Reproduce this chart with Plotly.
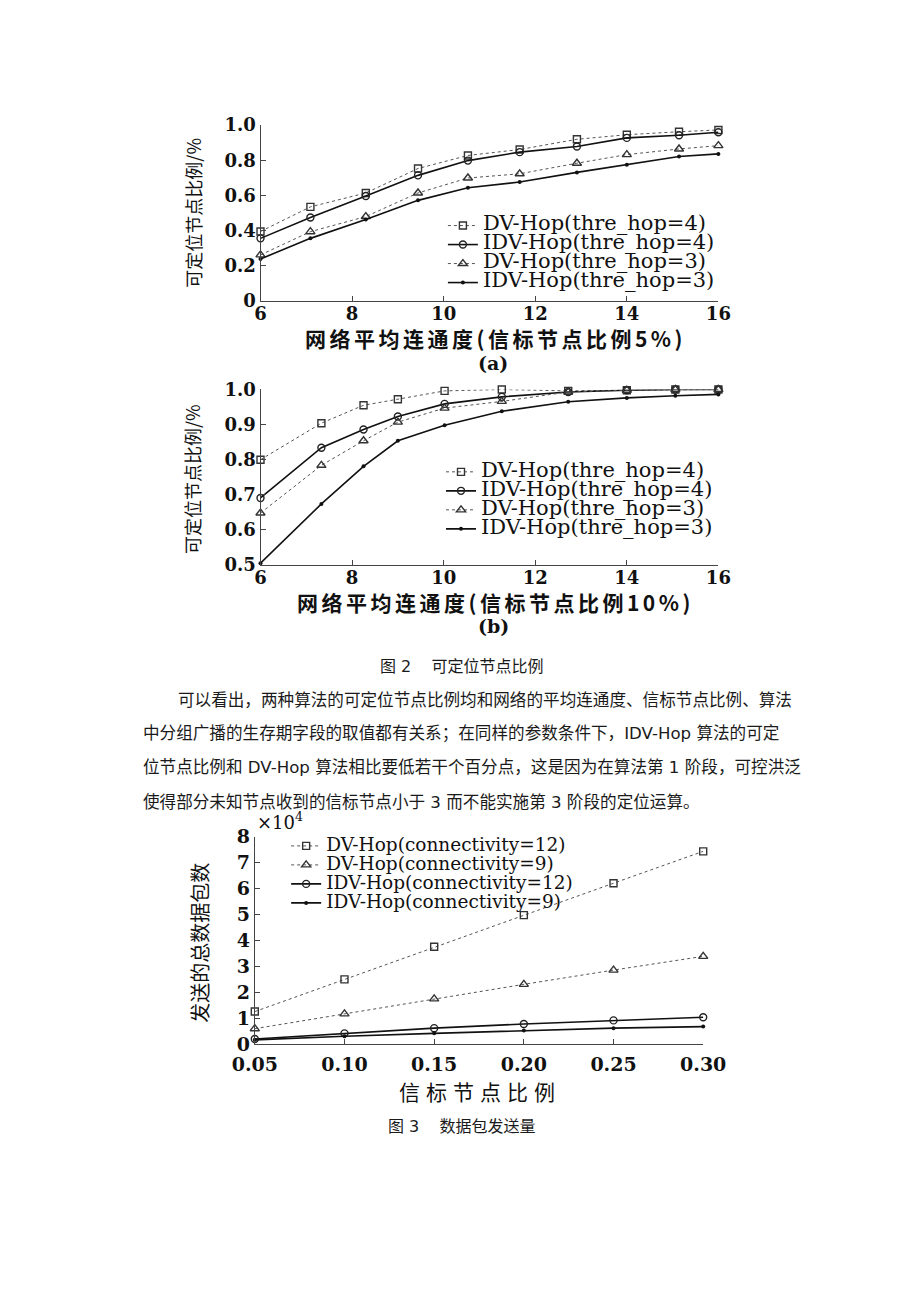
import plotly.graph_objects as go

W, H = 920, 1302


def px(x):
    return x / W


def py(y):
    return 1 - y / H


# ---------------- data ----------------
# Figure 2(a): beacon ratio 5%
conn_a = [6, 7.09, 8.3, 9.44, 10.53, 11.66, 12.91, 14.0, 15.14, 16.0]
a_dv4 = [0.395, 0.535, 0.614, 0.753, 0.827, 0.861, 0.919, 0.945, 0.962, 0.972]
a_idv4 = [0.356, 0.475, 0.597, 0.714, 0.798, 0.846, 0.878, 0.927, 0.942, 0.959]
a_dv3 = [0.262, 0.394, 0.480, 0.614, 0.699, 0.723, 0.783, 0.832, 0.864, 0.883]
a_idv3 = [0.239, 0.356, 0.463, 0.572, 0.644, 0.676, 0.731, 0.774, 0.821, 0.836]

# Figure 2(b): beacon ratio 10%
conn_b = [6, 7.33, 8.25, 9.0, 10.02, 11.27, 12.72, 14.0, 15.06, 16.0]
b_dv4 = [0.800, 0.904, 0.955, 0.972, 0.996, 1.000, 0.996, 0.998, 1.000, 1.000]
b_idv4 = [0.691, 0.834, 0.886, 0.923, 0.959, 0.979, 0.993, 0.998, 1.000, 1.000]
b_dv3 = [0.648, 0.784, 0.854, 0.907, 0.947, 0.966, 0.993, 0.998, 1.000, 1.000]
b_idv3 = [0.505, 0.674, 0.781, 0.854, 0.898, 0.938, 0.965, 0.976, 0.982, 0.986]

# Figure 3: packets sent
beacon = [0.05, 0.10, 0.15, 0.20, 0.25, 0.30]
c_dv12 = [12600, 25000, 37600, 49800, 62100, 74400]
c_dv9 = [6000, 11700, 17500, 23100, 28600, 33900]
c_idv12 = [2050, 4200, 6200, 7800, 9200, 10400]
c_idv9 = [1700, 3100, 4200, 5300, 6200, 6800]

names_a = ["DV-Hop(thre_hop=4)", "IDV-Hop(thre_hop=4)", "DV-Hop(thre_hop=3)", "IDV-Hop(thre_hop=3)"]
names_c = ["DV-Hop(connectivity=12)", "DV-Hop(connectivity=9)",
           "IDV-Hop(connectivity=12)", "IDV-Hop(connectivity=9)"]

ticks_a_y = [0, 0.2, 0.4, 0.6, 0.8, 1.0]
ticks_a_y_txt = ["0", "0.2", "0.4", "0.6", "0.8", "1.0"]
ticks_b_y = [0.5, 0.6, 0.7, 0.8, 0.9, 1.0]
ticks_b_y_txt = ["0.5", "0.6", "0.7", "0.8", "0.9", "1.0"]
ticks_conn = [6, 8, 10, 12, 14, 16]
ticks_c_x_txt = ["0.05", "0.10", "0.15", "0.20", "0.25", "0.30"]
ticks_c_y = [0, 10000, 20000, 30000, 40000, 50000, 60000, 70000, 80000]
ticks_c_y_txt = ["0", "1", "2", "3", "4", "5", "6", "7", "8"]

# ---------------- styles ----------------
SERIF = "DejaVu Serif"
CJK = "Noto Sans CJK SC"
BODY = "DejaVu Sans, Noto Sans CJK SC"
INK = "#111111"

STY = {
    "sq": dict(line=dict(color="#555555", width=1, dash="dot"),
               marker=dict(symbol="square-open", size=7, color="#333333", line=dict(width=1.4))),
    "ci": dict(line=dict(color="#111111", width=1.6),
               marker=dict(symbol="circle-open", size=7, color="#222222", line=dict(width=1.4))),
    "tr": dict(line=dict(color="#555555", width=1, dash="dot"),
               marker=dict(symbol="triangle-up-open", size=8, color="#333333", line=dict(width=1.4))),
    "dt": dict(line=dict(color="#111111", width=1.6),
               marker=dict(symbol="circle", size=4, color="#111111")),
}

fig = go.Figure()


def add(x, y, name, sty, xa, ya, leg, fs):
    fig.add_trace(go.Scatter(
        x=x, y=y, mode="lines+markers",
        name="<span style='font-size:%spx'>%s</span>" % (fs, name),
        xaxis=xa, yaxis=ya, legend=leg, cliponaxis=False,
        **STY[sty]))


for ys, nm, st in zip([a_dv4, a_idv4, a_dv3, a_idv3], names_a, ["sq", "ci", "tr", "dt"]):
    add(conn_a, ys, nm, st, "x", "y", "legend", 21)
for ys, nm, st in zip([b_dv4, b_idv4, b_dv3, b_idv3], names_a, ["sq", "ci", "tr", "dt"]):
    add(conn_b, ys, nm, st, "x2", "y2", "legend2", 21)
for ys, nm, st in zip([c_dv12, c_dv9, c_idv12, c_idv9], names_c, ["sq", "tr", "ci", "dt"]):
    add(beacon, ys, nm, st, "x3", "y3", "legend3", 18.5)

TF = dict(family=SERIF, size=18, color=INK, weight="bold")
AX = dict(showline=True, linecolor="#444444", linewidth=1, ticks="inside", ticklen=5,
          tickcolor="#444444", showgrid=False, zeroline=False, tickfont=TF)

fig.update_layout(
    width=W, height=H, margin=dict(l=0, r=0, t=0, b=0),
    paper_bgcolor="white", plot_bgcolor="white",
    xaxis=dict(AX, domain=[px(250), px(732)], anchor="y", range=[6, 16],
               tickvals=ticks_conn, ticklabelstandoff=-4),
    yaxis=dict(AX, domain=[py(295), py(116)], anchor="x", range=[0, 1],
               tickvals=ticks_a_y, ticktext=ticks_a_y_txt),
    xaxis2=dict(AX, domain=[px(250), px(732)], anchor="y2", range=[6, 16],
                tickvals=ticks_conn, ticklabelstandoff=-4),
    yaxis2=dict(AX, domain=[py(563.5), py(385)], anchor="x2", range=[0.5, 1],
                tickvals=ticks_b_y, ticktext=ticks_b_y_txt),
    xaxis3=dict(AX, domain=[px(244), px(716)], anchor="y3", range=[0.05, 0.30],
                tickvals=beacon, ticktext=ticks_c_x_txt, ticklabelstandoff=3,
                tickfont=dict(TF, size=19)),
    yaxis3=dict(AX, domain=[py(1051), py(840)], anchor="x3", range=[0, 80000],
                tickvals=ticks_c_y, ticktext=ticks_c_y_txt,
                tickfont=dict(TF, size=19)),
)

LEG = dict(xanchor="left", yanchor="top", bgcolor="rgba(0,0,0,0)",
           font=dict(family=SERIF, size=12, color=INK), borderwidth=0)
fig.update_layout(
    legend=dict(LEG, x=px(442), y=py(203.5)),
    legend2=dict(LEG, x=px(440), y=py(454)),
    legend3=dict(LEG, x=px(277), y=py(834.5)),
)


def ann(x, y, text, size, family=CJK, angle=0, xanchor="center", color=INK, weight="normal"):
    fig.add_annotation(x=px(x), y=py(y), xref="paper", yref="paper", text=text,
                       showarrow=False, xanchor=xanchor, yanchor="middle",
                       textangle=angle,
                       font=dict(family=family, size=size, color=color, weight=weight))


def spaced(t, ls):
    return "<span style='letter-spacing:%spx'>%s</span>" % (ls, t)


# chart (a)
ann(497, 333, spaced("网络平均连通度(信标节点比例5%)", 3.5), 21, weight="bold")
ann(495, 358, "(a)", 19, SERIF, weight="bold")
ann(178, 205, "可定位节点比例/%", 18, angle=-90)
# chart (b)
ann(497, 601, spaced("网络平均连通度(信标节点比例10%)", 3.5), 21, weight="bold")
ann(495, 626, "(b)", 19, SERIF, weight="bold")
ann(178, 476, "可定位节点比例/%", 18, angle=-90)
# chart (c)
ann(481, 1099, spaced("信标节点比例", 6), 21)
ann(186, 948, "发送的总数据包数", 20, angle=-90)
ann(270, 824, "×10<sup>4</sup>", 18, SERIF)

# captions and body text
TXT = "#1a1a1a"
ann(462, 667, "图 2\u00a0\u00a0\u00a0\u00a0可定位节点比例", 16, BODY, color=TXT)
body = [
    (161, 701, "可以看出，两种算法的可定位节点比例均和网络的平均连通度、信标节点比例、算法"),
    (124, 735, "中分组广播的生存期字段的取值都有关系；在同样的参数条件下，IDV-Hop 算法的可定"),
    (124, 770, "位节点比例和 DV-Hop 算法相比要低若干个百分点，这是因为在算法第 1 阶段，可控洪泛"),
    (124, 805, "使得部分未知节点收到的信标节点小于 3 而不能实施第 3 阶段的定位运算。"),
]
for bx, by, t in body:
    ann(bx, by, t, 16.6, BODY, xanchor="left", color=TXT)
ann(462, 1135, "图 3\u00a0\u00a0\u00a0\u00a0数据包发送量", 16, BODY, color=TXT)

fig.write_html("out.html")
